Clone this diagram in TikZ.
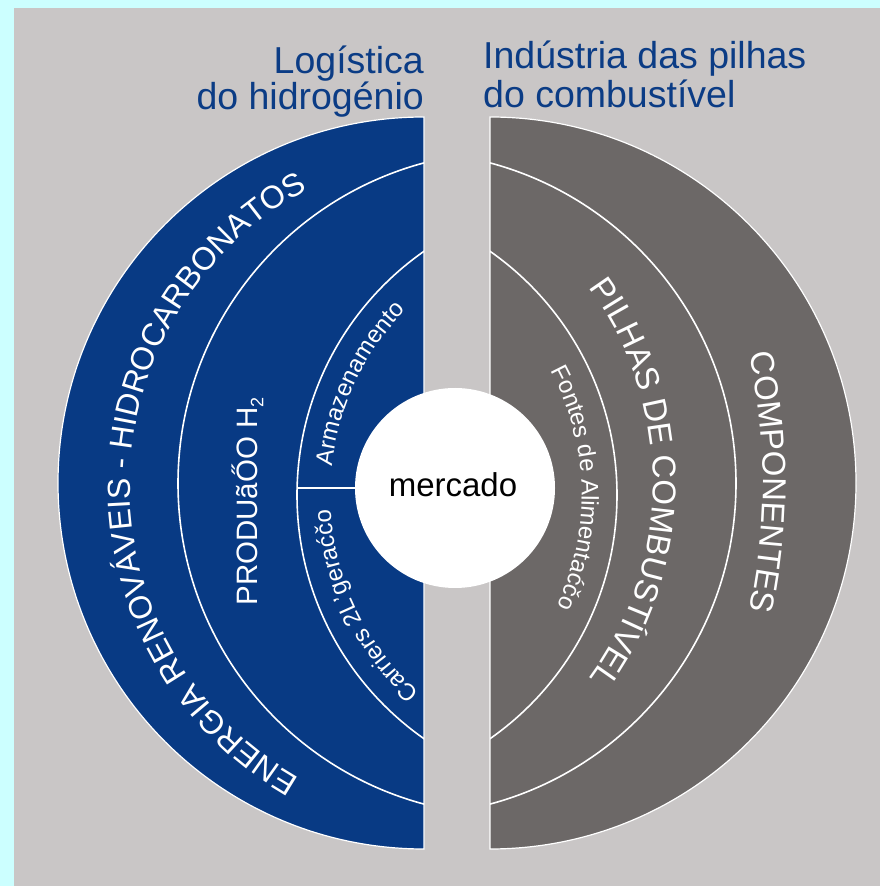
\documentclass[tikz,border=0pt]{standalone}
\usepackage{fontspec}
\setmainfont{Liberation Sans}
\usetikzlibrary{decorations.text}
\definecolor{cyanbg}{HTML}{CCFFFF}
\definecolor{panelgray}{HTML}{C9C6C6}
\definecolor{hblue}{HTML}{083A84}
\definecolor{dgray}{HTML}{6C6867}
\definecolor{tblue}{HTML}{0B3C85}
\begin{document}
\begin{tikzpicture}[x=1pt,y=1pt,
  ringline/.style={white, line width=1.6pt},
  halfoutline/.style={white, line width=1.2pt},
  titletext/.style={tblue, font=\fontsize{37.5}{37.5}\selectfont, inner sep=0pt},
  ringtext/.style={decorate, decoration={text along path, text align=center, text color=white, text={#1}}}
]
% background and panel
\fill[cyanbg] (0,0) rectangle (880,886);
\useasboundingbox (0,0) rectangle (880,886);
\fill[panelgray] (14,0) rectangle (880,878);

% left half disc
\fill[hblue] (424,769) arc[start angle=90, end angle=270, radius=366] -- cycle;
\begin{scope}
  \clip (424,769) arc[start angle=90, end angle=270, radius=366] -- cycle;
  \draw[ringline] (509.8,402.5) circle[radius=331.8];
  \draw[ringline] (594.3,391) circle[radius=297.3];
  \draw[ringline] (297.1,398) -- (424,398);
\end{scope}
\draw[halfoutline] (424,769) arc[start angle=90, end angle=270, radius=366] -- cycle;

% right half disc
\fill[dgray] (490,769) arc[start angle=90, end angle=-90, radius=366] -- cycle;
\begin{scope}
  \clip (490,769) arc[start angle=90, end angle=-90, radius=366] -- cycle;
  \draw[ringline] (404.2,402.5) circle[radius=331.8];
  \draw[ringline] (319.7,391) circle[radius=297.3];
\end{scope}
\draw[halfoutline] (490,769) arc[start angle=90, end angle=-90, radius=366] -- cycle;

% centre circle
\node[circle, fill=white, minimum size=200pt, inner sep=0pt] (mc) at (455,398) {};
\node[anchor=base, inner sep=0pt, font=\fontsize{33}{33}\selectfont] (mtext) at (453,389) {mercado};

% titles
\node[titletext, anchor=base east] (tl1) at (424,812) {Logística};
\node[titletext, anchor=base east] (tl2) at (424,776) {do hidrogénio};
\node[titletext, anchor=base west] (tr1) at (483,817) {Indústria das pilhas};
\node[titletext, anchor=base west] (tr2) at (483,778) {do combustível};

% left texts
\path[ringtext={|\fontsize{32}{32}\selectfont|ENERGIA RENOVÁVEIS - HIDROCARBONATOS}]
  (466,400) ++(249.2:336) arc[start angle=249.2, end angle=109.2, radius=336];
\node[rotate=90, anchor=base, white, inner sep=0pt, font=\fontsize{29.5}{29.5}\selectfont] (prod) at (257,384.5)
  {PRODUãŐO H\raisebox{-0.22em}{\fontsize{18}{18}\selectfont 2}};
\path[ringtext={|\fontsize{24}{24}\selectfont|Armazenamento}]
  (594.3,391) ++(184.6:264) arc[start angle=184.6, end angle=124.6, radius=264];
\path[ringtext={|\fontsize{24}{24}\selectfont|Carriers 2L'geraćčo}]
  (594.3,391) ++(235.8:264) arc[start angle=235.8, end angle=175.8, radius=264];

% right texts
\path[ringtext={|\fontsize{33}{33}\selectfont|COMPONENTES}]
  (163,404) ++(15:600) arc[start angle=15, end angle=-15, radius=600];
\path[ringtext={|\fontsize{33}{33}\selectfont|PILHAS DE COMBUSTÍVEL}]
  (325,403) ++(45:328) arc[start angle=45, end angle=-45, radius=328];
\path[ringtext={|\fontsize{24}{24}\selectfont|Fontes de Alimentaćčo}]
  (319.7,391) ++(31.6:262) arc[start angle=31.6, end angle=-28.4, radius=262];
\end{tikzpicture}
\end{document}
